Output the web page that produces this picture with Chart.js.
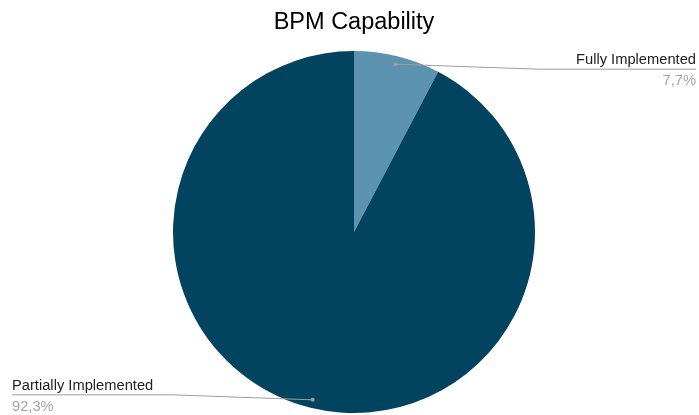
<!DOCTYPE html>
<html>
<head>
<meta charset="utf-8">
<script src="https://cdn.jsdelivr.net/npm/chart.js@4"></script>
<style>
  html, body { margin: 0; padding: 0; background: #fff; }
  #wrap { width: 699px; height: 415px; }
</style>
</head>
<body>
<div id="wrap"><canvas id="pie"></canvas></div>
<script>
const labels = ["Fully Implemented", "Partially Implemented"]
const counts = [1, 12]
const colors = ["#5b93b0", "#02435f"]

// leader lines + labels, google-charts style
const leaderLabels = {
  id: 'leaderLabels',
  afterDraw(chart) {
    const ctx = chart.ctx
    const meta = chart.getDatasetMeta(0)
    const total = counts.reduce((a, b) => a + b, 0)
    meta.data.forEach(function (arc, i) {
      const mid = (arc.startAngle + arc.endAngle) / 2
      const r = arc.outerRadius * 0.955
      const dx = arc.x + Math.cos(mid) * r
      const dy = arc.y + Math.sin(mid) * r
      const right = Math.cos(mid) >= 0
      const pct = (counts[i] / total * 100).toFixed(1).replace('.', ',') + '%'

      ctx.save()
      ctx.strokeStyle = '#9e9e9e'
      ctx.fillStyle = '#9e9e9e'
      ctx.lineWidth = 1
      ctx.beginPath()
      let lineY, endX, elbowX
      if (right) {
        lineY = dy + 5
        endX = chart.width - 3
        elbowX = dx + 142
      } else {
        lineY = dy - 5
        endX = 12
        elbowX = dx - 140
      }
      ctx.moveTo(dx, dy)
      ctx.lineTo(elbowX, lineY)
      ctx.lineTo(endX, lineY)
      ctx.stroke()
      ctx.beginPath()
      ctx.arc(dx, dy, 2, 0, Math.PI * 2)
      ctx.fill()

      ctx.font = '14.7px "Liberation Sans", Arial, sans-serif'
      ctx.textAlign = right ? 'right' : 'left'
      ctx.textBaseline = 'alphabetic'
      ctx.fillStyle = '#222'
      ctx.fillText(labels[i], endX, lineY - 5)
      ctx.fillStyle = '#a6a6a6'
      ctx.fillText(pct, endX, lineY + 16)
      ctx.restore()
    })
  }
}

new Chart(document.getElementById('pie'), {
  type: 'pie',
  data: {
    labels: labels,
    datasets: [{
      data: counts,
      backgroundColor: colors,
      borderWidth: 0
    }]
  },
  options: {
    responsive: true,
    maintainAspectRatio: false,
    animation: false,
    layout: { padding: { left: 9, bottom: 2 } },
    plugins: {
      legend: { display: false },
      tooltip: { enabled: false },
      title: {
        display: true,
        text: 'BPM Capability',
        color: '#000',
        font: { family: '"Liberation Sans", Arial, sans-serif', size: 23.5, weight: 'normal' },
        padding: { top: 8, bottom: 14.8 }
      }
    }
  },
  plugins: [leaderLabels]
})
</script>
</body>
</html>
